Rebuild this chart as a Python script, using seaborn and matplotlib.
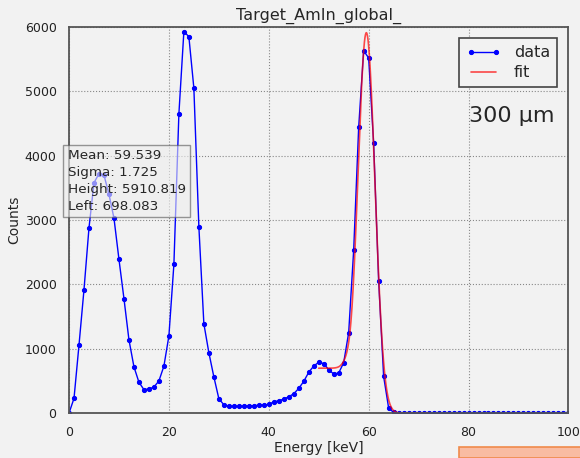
import numpy as np
import pandas as pd
import matplotlib
matplotlib.use('Agg')
import matplotlib.pyplot as plt
import seaborn as sns
from matplotlib.patches import Rectangle

# Spectrum (1 keV bins)
energy = list(range(0, 101))
counts = [0, 230, 1060, 1920, 2880, 3580, 3720, 3700, 3400, 3030,
          2390, 1780, 1140, 720, 480, 365, 375, 405, 500, 730,
          1200, 2310, 4650, 5930, 5850, 5050, 2900, 1390, 940, 565,
          225, 130, 105, 105, 105, 108, 114, 116, 122, 126,
          135, 176, 192, 218, 254, 301, 384, 493, 634, 732,
          790, 770, 675, 607, 623, 784, 1251, 2530, 4440, 5630,
          5520, 4190, 2060, 570, 80, 10] + [0] * 35

# Fit parameters shown in the info box
fit_mean = 59.539
fit_sigma = 1.725
fit_height = 5910.819
fit_left = 698.083
fit_range = (50, 72)

xticks = [0, 20, 40, 60, 80, 100]
yticks = [0, 1000, 2000, 3000, 4000, 5000, 6000]

bg = '#f2f2f2'
sns.set_theme(style='whitegrid', rc={
    'axes.facecolor': bg, 'figure.facecolor': bg,
    'axes.edgecolor': '#555555', 'axes.linewidth': 1.3,
    'grid.color': '#888888', 'grid.linestyle': ':', 'grid.linewidth': 0.8,
    'xtick.bottom': False, 'ytick.left': False,
})
plt.rcParams['font.family'] = ['DejaVu Sans']

df = pd.DataFrame({'energy': energy, 'counts': counts})

# gaussian plus a left-side step background
xf = np.linspace(fit_range[0], fit_range[1], 400)
gauss = fit_height * np.exp(-0.5 * ((xf - fit_mean) / fit_sigma) ** 2)
step = fit_left / (1 + np.exp((xf - (fit_mean - 2 * fit_sigma)) / (0.3 * fit_sigma)))
fit_df = pd.DataFrame({'energy': xf, 'counts': gauss + step})

fig = plt.figure(figsize=(5.8, 4.58), dpi=100)
ax = fig.add_axes([0.119, 0.098, 0.861, 0.843])

sns.lineplot(data=df, x='energy', y='counts', ax=ax, color='blue', lw=1.0,
             marker='o', markersize=3, markeredgecolor='blue',
             estimator=None, sort=False, label='data')
sns.lineplot(data=fit_df, x='energy', y='counts', ax=ax, color='red', alpha=0.7,
             lw=1.2, estimator=None, sort=False, label='fit')

ax.set_xlim(0, 100)
ax.set_ylim(0, 6000)
ax.set_xticks(xticks)
ax.set_yticks(yticks)
ax.tick_params(labelsize=9, colors='#222222', pad=3)
ax.set_xlabel('Energy [keV]', fontsize=10, labelpad=2)
ax.set_ylabel('Counts', fontsize=10, labelpad=2)
ax.set_title('Target_AmIn_global_', fontsize=11.5, pad=5)

leg = ax.legend(loc='upper right', fontsize=11.5, numpoints=2, fancybox=False,
                framealpha=1, borderaxespad=0.7, handlelength=2.2,
                labelspacing=0.3, borderpad=0.45)
leg.get_frame().set_edgecolor('#444444')
leg.get_frame().set_facecolor(bg)
leg.get_frame().set_linewidth(1.2)

ax.text(0.8, 0.77, '300 µm', transform=ax.transAxes, fontsize=16, va='center', ha='left')

info = (f'Mean: {fit_mean:.3f}\nSigma: {fit_sigma:.3f}\n'
        f'Height: {fit_height:.3f}\nLeft: {fit_left:.3f}')
ax.text(-0.003, 0.683, info, transform=ax.transAxes, fontsize=9.7, va='top', ha='left',
        linespacing=1.4, clip_on=False,
        bbox=dict(boxstyle='square,pad=0.3', facecolor='#eeeeee', alpha=0.6,
                  edgecolor='#555555'))

fig.patches.append(Rectangle((459 / 580, 0), 130 / 580, 11 / 458, transform=fig.transFigure,
                             facecolor='#f9bca2', edgecolor='#f08a4b', lw=1.2))

fig.savefig('out.png', dpi=100, facecolor=bg)
